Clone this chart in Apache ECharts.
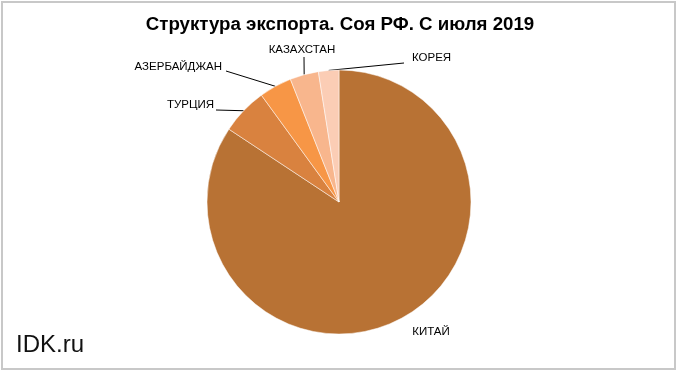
<!DOCTYPE html>
<html>
<head>
<meta charset="utf-8">
<script src="https://cdn.jsdelivr.net/npm/echarts@6/dist/echarts.min.js"></script>
<style>
html,body{margin:0;padding:0;background:#fff;}
#chart{width:680px;height:375px;}
</style>
</head>
<body>
<div id="chart"></div>
<script>
var titleText = 'Структура экспорта. Соя РФ. С июля 2019';
var categories = ['КИТАЙ', 'ТУРЦИЯ', 'АЗЕРБАЙДЖАН', 'КАЗАХСТАН', 'КОРЕЯ'];
var values = [84.3, 5.7, 4.0, 3.5, 2.5];
var colors = ['#B87234', '#D9823F', '#F79646', '#F8B68D', '#FBCDB5'];

// label anchor placement (pixels) and line end points
var labelPos = {
  'КИТАЙ':       {x: 431, y: 332, align: 'center', end: null},
  'ТУРЦИЯ':      {x: 214, y: 105, align: 'right', end: [216, 110]},
  'АЗЕРБАЙДЖАН': {x: 222, y: 67,  align: 'right', end: [226, 71]},
  'КАЗАХСТАН':   {x: 302, y: 50,  align: 'center', end: [304, 57]},
  'КОРЕЯ':       {x: 412, y: 58,  align: 'left', end: [404, 63]}
};

var chart = echarts.init(document.getElementById('chart'), null, {renderer: 'canvas'});
var data = categories.map(function (c, i) {
  return {
    name: c,
    value: values[i],
    itemStyle: {color: colors[i]},
    labelLine: {show: c !== 'КИТАЙ'}
  };
});

chart.setOption({
  animation: false,
  backgroundColor: '#ffffff',
  title: {
    text: titleText,
    left: 'center',
    top: 10,
    textStyle: {fontFamily: 'Liberation Sans', fontSize: 18.7, fontWeight: 'bold', color: '#000'}
  },
  graphic: [
    {
      type: 'rect',
      shape: {x: 2, y: 2, width: 673, height: 367},
      style: {fill: 'none', stroke: '#C8C8C8', lineWidth: 2},
      silent: true
    },
    {
      type: 'text',
      left: 16,
      top: 333,
      style: {text: 'IDK.ru', fontFamily: 'Liberation Sans', fontSize: 24, fill: '#111'}
    }
  ],
  series: [{
    type: 'pie',
    center: [339, 202],
    radius: [0, 132],
    startAngle: 90,
    clockwise: true,
    data: data,
    itemStyle: {borderColor: '#ffffff', borderWidth: 0.5},
    label: {
      show: true,
      position: 'outside',
      formatter: '{b}',
      fontFamily: 'Liberation Sans',
      fontSize: 11.5,
      color: '#000'
    },
    labelLine: {show: true, length: 10, length2: 10, lineStyle: {color: '#000', width: 1}},
    emphasis: {disabled: true},
    labelLayout: function (params) {
      var name = categories[params.dataIndex];
      var p = labelPos[name];
      var res = {x: p.x, y: p.y, align: p.align, verticalAlign: 'middle'};
      if (p.end && params.labelLinePoints) {
        var s = params.labelLinePoints[0];
        res.labelLinePoints = [[s[0], s[1]], [p.end[0], p.end[1]], [p.end[0], p.end[1]]];
      }
      return res;
    }
  }]
});
</script>
</body>
</html>
